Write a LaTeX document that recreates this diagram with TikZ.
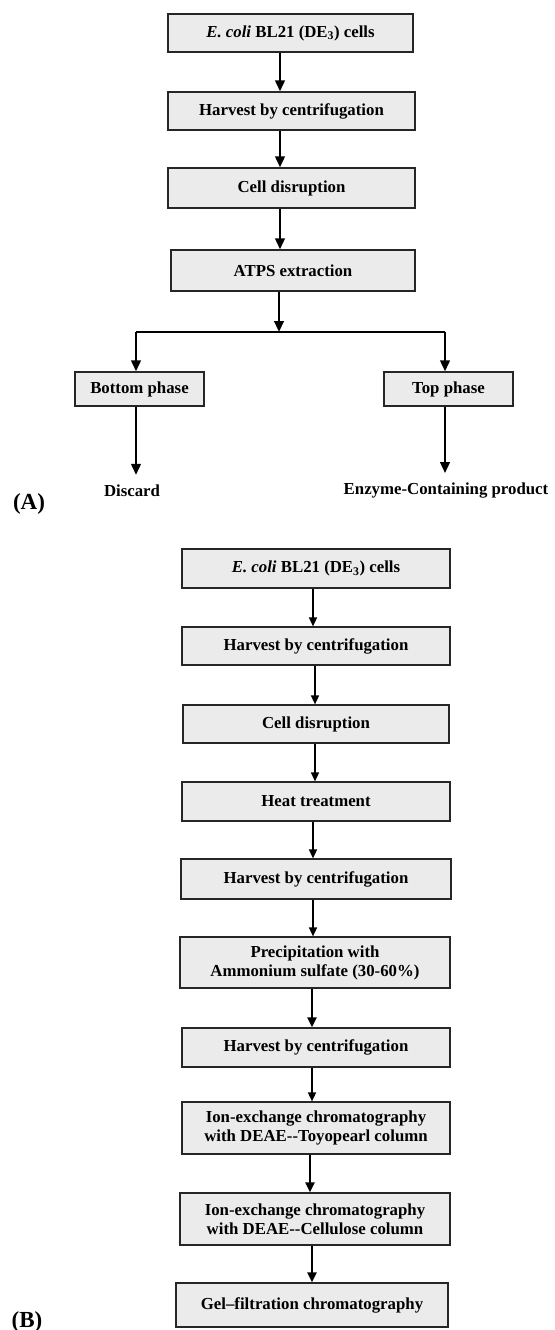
\documentclass[tikz,border=0pt]{standalone}
\usepackage{fontspec}
\setmainfont{Liberation Serif}
\usetikzlibrary{arrows.meta}
\tikzset{
  box/.style={draw=black!85, line width=1.2bp, fill=black!8, inner sep=0pt, align=center,
    font=\bfseries\fontsize{16.8bp}{19bp}\selectfont},
  plain/.style={inner sep=0pt, font=\bfseries\fontsize{16.8bp}{19bp}\selectfont},
  lbl/.style={inner sep=0pt, font=\bfseries\fontsize{23bp}{25bp}\selectfont},
  arrA/.style={line width=2.4bp, -{Triangle[length=11bp,width=9.5bp]}},
  arrT/.style={line width=1.5bp, -{Triangle[length=9bp,width=8bp]}},
  arrK/.style={line width=2.2bp, -{Triangle[length=10bp,width=9bp]}},
  branch/.style={line width=2.4bp}
}
\begin{document}
\begin{tikzpicture}[x=1bp,y=-1bp]
\useasboundingbox (0,0) rectangle (555,1330);
% ---------- Part A ----------
\node[box, minimum width=245bp, minimum height=38bp] (a1) at (290.5,33) {\textit{E. coli} BL21 (DE\textsubscript{3}) cells};
\node[box, minimum width=247bp, minimum height=38bp] (a2) at (291.5,111) {Harvest by centrifugation};
\node[box, minimum width=247bp, minimum height=40bp] (a3) at (291.5,188) {Cell disruption};
\node[box, minimum width=244bp, minimum height=41bp] (a4) at (293,270.5) {ATPS extraction};
\node[box, minimum width=129bp, minimum height=34bp] (bot) at (139.5,389) {Bottom phase};
\node[box, minimum width=129bp, minimum height=34bp] (top) at (448.5,389) {Top phase};
\node[plain] (discard) at (132,491) {Discard};
\node[plain] (enzyme) at (446,491) {Enzyme-Containing product};
\node[lbl] (labA) at (29,504) {(A)};
\coordinate (xa) at (280,0);
\coordinate (br) at (279,332);
\coordinate (brL) at (136,332);
\coordinate (brR) at (445,332);
\draw[arrA] (a1.south -| xa) -- (a2.north -| xa);
\draw[arrA] (a2.south -| xa) -- (a3.north -| xa);
\draw[arrA] (a3.south -| xa) -- (a4.north -| xa);
\draw[arrA] (a4.south -| br) -- (br);
\draw[branch] (brL) -- (brR);
\draw[arrA] (brL) -- (bot.north -| brL);
\draw[arrA] (brR) -- (top.north -| brR);
\draw[arrA, shorten >=10bp] (bot.south -| brL) -- (discard.north -| brL);
\draw[arrA, shorten >=10bp] (top.south -| brR) -- (enzyme.north -| brR);
% ---------- Part B ----------
\node[box, minimum width=268bp, minimum height=39bp] (b1) at (316,568.5) {\textit{E. coli} BL21 (DE\textsubscript{3}) cells};
\node[box, minimum width=268bp, minimum height=38bp] (b2) at (316,646) {Harvest by centrifugation};
\node[box, minimum width=266bp, minimum height=38bp] (b3) at (316,724) {Cell disruption};
\node[box, minimum width=268bp, minimum height=39bp] (b4) at (316,801.5) {Heat treatment};
\node[box, minimum width=270bp, minimum height=40bp] (b5) at (316,879) {Harvest by centrifugation};
\node[box, minimum width=270bp, minimum height=51bp] (b6) at (315,962.5) {Precipitation with\\Ammonium sulfate (30-60\%)};
\node[box, minimum width=268bp, minimum height=39bp] (b7) at (316,1047.5) {Harvest by centrifugation};
\node[box, minimum width=268bp, minimum height=52bp] (b8) at (316,1128) {Ion-exchange chromatography\\with DEAE-{}-Toyopearl column};
\node[box, minimum width=270bp, minimum height=52bp] (b9) at (315,1219) {Ion-exchange chromatography\\with DEAE-{}-Cellulose column};
\node[box, minimum width=272bp, minimum height=44bp] (b10) at (312,1305) {Gel--filtration chromatography};
\node[lbl] (labB) at (27,1322) {(B)};
\coordinate (x1) at (313,0);
\coordinate (x2) at (315,0);
\coordinate (x3) at (312,0);
\coordinate (x4) at (310,0);
\draw[arrT] (b1.south -| x1) -- (b2.north -| x1);
\draw[arrT] (b2.south -| x2) -- (b3.north -| x2);
\draw[arrT] (b3.south -| x2) -- (b4.north -| x2);
\draw[arrT] (b4.south -| x1) -- (b5.north -| x1);
\draw[arrT] (b5.south -| x1) -- (b6.north -| x1);
\draw[arrK] (b6.south -| x3) -- (b7.north -| x3);
\draw[arrT] (b7.south -| x3) -- (b8.north -| x3);
\draw[arrK] (b8.south -| x4) -- (b9.north -| x4);
\draw[arrK] (b9.south -| x3) -- (b10.north -| x3);
\end{tikzpicture}
\end{document}
